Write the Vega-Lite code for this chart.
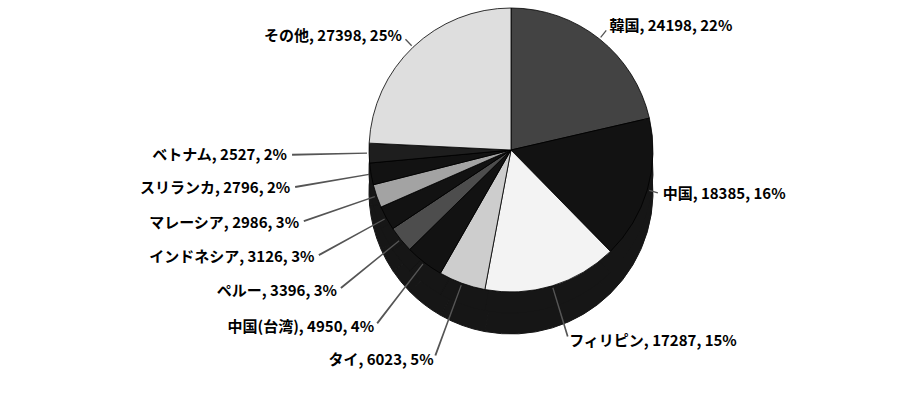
{
  "$schema": "https://vega.github.io/schema/vega-lite/v6.json",
  "autosize": {"type": "none"},
  "width": 800,
  "height": 300,
  "padding": {"left": 111, "top": 0, "right": 0, "bottom": 109},
  "background": "white",
  "config": {"view": {"stroke": null}, "text": {"font": "Noto Sans CJK JP", "fontSize": 15, "fontWeight": "bold", "color": "#000000", "baseline": "middle"}},
  "data": {
    "values": [
      {"country": "韓国", "value": 24198, "pct": 22, "order": 1},
      {"country": "中国", "value": 18385, "pct": 16, "order": 2},
      {"country": "フィリピン", "value": 17287, "pct": 15, "order": 3},
      {"country": "タイ", "value": 6023, "pct": 5, "order": 4},
      {"country": "中国(台湾)", "value": 4950, "pct": 4, "order": 5},
      {"country": "ペルー", "value": 3396, "pct": 3, "order": 6},
      {"country": "インドネシア", "value": 3126, "pct": 3, "order": 7},
      {"country": "マレーシア", "value": 2986, "pct": 3, "order": 8},
      {"country": "スリランカ", "value": 2796, "pct": 2, "order": 9},
      {"country": "ベトナム", "value": 2527, "pct": 2, "order": 10},
      {"country": "その他", "value": 27398, "pct": 25, "order": 11}
    ]
  },
  "transform": [
    {"window": [{"op": "sum", "field": "value", "as": "cum"}], "sort": [{"field": "order"}], "frame": [null, 0]},
    {"joinaggregate": [{"op": "sum", "field": "value", "as": "total"}]},
    {"calculate": "(datum.cum - datum.value) / datum.total", "as": "f0"},
    {"calculate": "datum.cum / datum.total", "as": "f1"},
    {"calculate": "(datum.f0 + datum.f1) / 2", "as": "fm"},
    {"calculate": "datum.fm - 0.0007", "as": "l0"},
    {"calculate": "datum.fm + 0.0007", "as": "l1"},
    {"calculate": "datum.country + ', ' + datum.value + ', ' + datum.pct + '%'", "as": "label"}
  ],
  "layer": [
    {
      "mark": {"type": "arc", "outerRadius": 142, "yOffset": 42, "fill": "#161616", "stroke": "#161616", "strokeWidth": 1},
      "encoding": {
        "theta": {"field": "f0", "type": "quantitative", "stack": false, "scale": {"domain": [0, 1]}},
        "theta2": {"field": "f1"}
      }
    },
    {
      "mark": {"type": "arc", "outerRadius": 142, "yOffset": 21, "fill": "#161616", "stroke": "#161616", "strokeWidth": 1},
      "encoding": {
        "theta": {"field": "f0", "type": "quantitative", "stack": false, "scale": {"domain": [0, 1]}},
        "theta2": {"field": "f1"}
      }
    },
    {
      "mark": {"type": "arc", "outerRadius": 142, "stroke": "#000000", "strokeWidth": 0.8},
      "encoding": {
        "theta": {"field": "f0", "type": "quantitative", "stack": false, "scale": {"domain": [0, 1]}},
        "theta2": {"field": "f1"},
        "color": {
          "field": "country",
          "type": "nominal",
          "legend": null,
          "scale": {
            "domain": ["韓国", "中国", "フィリピン", "タイ", "中国(台湾)", "ペルー", "インドネシア", "マレーシア", "スリランカ", "ベトナム", "その他"],
            "range": ["#434343", "#121212", "#f3f3f3", "#cdcdcd", "#121212", "#4d4d4d", "#121212", "#a3a3a3", "#121212", "#1e1e1e", "#dedede"]
          }
        }
      }
    },
    {
      "transform": [{"filter": "datum.fm > 0.5 && datum.fm < 0.8"}],
      "mark": {"type": "arc", "innerRadius": 144, "outerRadius": 219, "fill": "#555555"},
      "encoding": {
        "theta": {"field": "l0", "type": "quantitative", "stack": false, "scale": {"domain": [0, 1]}},
        "theta2": {"field": "l1"}
      }
    },
    {
      "transform": [{"filter": "datum.country == 'フィリピン'"}],
      "mark": {"type": "arc", "innerRadius": 144, "outerRadius": 195, "fill": "#555555"},
      "encoding": {
        "theta": {"field": "l0", "type": "quantitative", "stack": false, "scale": {"domain": [0, 1]}},
        "theta2": {"field": "l1"}
      }
    },
    {
      "transform": [{"filter": "datum.fm < 0.4 || datum.fm > 0.8"}],
      "mark": {"type": "arc", "innerRadius": 144, "outerRadius": 153, "fill": "#555555"},
      "encoding": {
        "theta": {"field": "l0", "type": "quantitative", "stack": false, "scale": {"domain": [0, 1]}},
        "theta2": {"field": "l1"}
      }
    },
    {
      "transform": [{"filter": "datum.fm > 0.5 && datum.fm < 0.8"}],
      "mark": {"type": "text", "radius": 224, "align": "right"},
      "encoding": {
        "theta": {"field": "fm", "type": "quantitative", "stack": false, "scale": {"domain": [0, 1]}},
        "text": {"field": "label"}
      }
    },
    {
      "transform": [{"filter": "datum.fm > 0.8"}],
      "mark": {"type": "text", "radius": 158, "align": "right"},
      "encoding": {
        "theta": {"field": "fm", "type": "quantitative", "stack": false, "scale": {"domain": [0, 1]}},
        "text": {"field": "label"}
      }
    },
    {
      "transform": [{"filter": "datum.fm <= 0.4"}],
      "mark": {"type": "text", "radius": 158, "align": "left"},
      "encoding": {
        "theta": {"field": "fm", "type": "quantitative", "stack": false, "scale": {"domain": [0, 1]}},
        "text": {"field": "label"}
      }
    },
    {
      "transform": [{"filter": "datum.country == 'フィリピン'"}],
      "mark": {"type": "text", "radius": 200, "align": "left"},
      "encoding": {
        "theta": {"field": "fm", "type": "quantitative", "stack": false, "scale": {"domain": [0, 1]}},
        "text": {"field": "label"}
      }
    }
  ]
}
